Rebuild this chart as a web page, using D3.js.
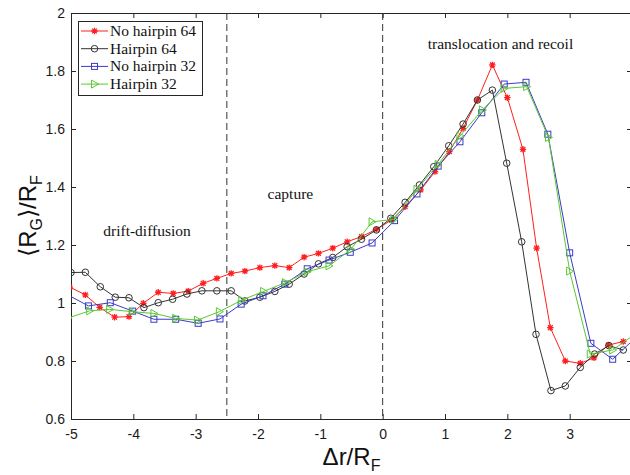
<!DOCTYPE html>
<html><head><meta charset="utf-8">
<script src="https://cdn.jsdelivr.net/npm/d3@7"></script>
<style>body{margin:0;background:#fff}</style>
</head><body><svg id="c" width="630" height="475"></svg>
<script>
// ---- data ----
const seriesNames = ["No hairpin 64", "Hairpin 64", "No hairpin 32", "Hairpin 32"];
const red_x = [-5.02,-4.77,-4.54,-4.30,-4.07,-3.84,-3.60,-3.36,-3.12,-2.88,-2.66,-2.43,-2.21,-1.97,-1.73,-1.50,-1.26,-1.03,-0.80,-0.57,-0.34,-0.10,0.14,0.36,0.61,0.84,1.07,1.29,1.52,1.76,2.00,2.25,2.47,2.69,2.93,3.17,3.39,3.62,3.86];
const red_y = [1.055,1.028,0.985,0.951,0.953,0.999,1.037,1.033,1.041,1.068,1.085,1.102,1.110,1.122,1.129,1.122,1.158,1.171,1.189,1.211,1.229,1.254,1.286,1.332,1.39,1.453,1.522,1.602,1.70,1.821,1.708,1.53,1.189,0.915,0.80,0.792,0.811,0.855,0.867];
const black_x = [-5.0,-4.77,-4.53,-4.29,-4.07,-3.83,-3.60,-3.37,-3.14,-2.90,-2.66,-2.43,-2.21,-1.97,-1.73,-1.50,-1.26,-1.03,-0.80,-0.57,-0.34,-0.10,0.13,0.36,0.59,0.82,1.06,1.29,1.52,1.76,1.99,2.23,2.46,2.70,2.93,3.17,3.40,3.63,3.86];
const black_y = [1.105,1.106,1.056,1.02,1.018,0.984,1.001,1.013,1.031,1.042,1.042,1.042,1.007,1.02,1.04,1.065,1.10,1.135,1.157,1.194,1.22,1.252,1.292,1.347,1.407,1.47,1.542,1.617,1.70,1.734,1.482,1.211,0.892,0.698,0.714,0.778,0.824,0.853,0.838];
const blue_x = [-5.07,-4.72,-4.37,-4.01,-3.67,-3.32,-2.96,-2.61,-2.27,-1.92,-1.57,-1.21,-0.86,-0.52,-0.17,0.19,0.55,0.89,1.24,1.59,1.95,2.30,2.65,3.0,3.34,3.69,4.03];
const blue_y = [1.03,0.99,1.001,0.972,0.944,0.944,0.93,0.945,0.996,1.025,1.065,1.118,1.148,1.175,1.207,1.284,1.376,1.472,1.556,1.656,1.755,1.761,1.582,1.173,0.861,0.806,0.875];
const green_x = [-5.05,-4.70,-4.38,-4.02,-3.67,-3.32,-2.97,-2.62,-2.26,-1.91,-1.56,-1.21,-0.86,-0.51,-0.17,0.18,0.55,0.89,1.24,1.60,1.95,2.31,2.66,3.0,3.33,3.69,4.03];
const green_y = [0.948,0.973,0.978,0.97,0.964,0.947,0.941,0.97,1.01,1.04,1.07,1.108,1.128,1.185,1.28,1.288,1.392,1.478,1.576,1.666,1.74,1.746,1.571,1.11,0.824,0.838,0.89];
const xTicks = [-5,-4,-3,-2,-1,0,1,2,3,4];
const xTickLabels = ["-5","-4","-3","-2","-1","0","1","2","3",""];
const yTicks = [0.6,0.8,1,1.2,1.4,1.6,1.8,2];
const yTickLabels = ["0.6","0.8","1","1.2","1.4","1.6","1.8","2"];
const regionLines = [-2.5, 0];
const regionLabels = ["drift-diffusion", "capture", "translocation and recoil"];

// ---- layout ----
const svg = d3.select("#c");
const L = 71, R = 632, T = 13, B = 419;
const x = d3.scaleLinear().domain([-5, 4]).range([L, R]);
const y = d3.scaleLinear().domain([0.6, 2]).range([B, T]);
const axisColor = "#262626";
const sansFont = "Liberation Sans, Arial, sans-serif";
const serifFont = "Liberation Serif, Times New Roman, serif";

svg.append("defs").append("clipPath").attr("id", "clip")
  .append("rect").attr("x", L).attr("y", T).attr("width", R - L).attr("height", B - T);

// axes
const gx = svg.append("g").attr("transform", `translate(0,${B})`)
  .call(d3.axisBottom(x).tickValues(xTicks).tickFormat((d, i) => xTickLabels[i]).tickSize(-5).tickSizeOuter(0).tickPadding(10));
const gxt = svg.append("g").attr("transform", `translate(0,${T})`)
  .call(d3.axisTop(x).tickValues(xTicks).tickFormat("").tickSize(-5).tickSizeOuter(0));
const gy = svg.append("g").attr("transform", `translate(${L},0)`)
  .call(d3.axisLeft(y).tickValues(yTicks).tickFormat((d, i) => yTickLabels[i]).tickSize(-5).tickSizeOuter(0).tickPadding(6));
const gyr = svg.append("g").attr("transform", `translate(${R},0)`)
  .call(d3.axisRight(y).tickValues(yTicks).tickFormat("").tickSize(-5).tickSizeOuter(0));
[gx, gxt, gy, gyr].forEach(g => {
  g.selectAll("path").attr("stroke", axisColor).attr("stroke-width", 1);
  g.selectAll("line").attr("stroke", axisColor).attr("stroke-width", 1);
  g.selectAll("text").attr("fill", "#1a1a1a").style("font-family", sansFont).style("font-size", "14px");
});
gx.selectAll(".tick text").filter(function() { return this.textContent === ""; }).remove();

// region dashed lines
svg.append("g").selectAll("line").data(regionLines).join("line")
  .attr("x1", d => x(d)).attr("x2", d => x(d)).attr("y1", T).attr("y2", B)
  .attr("stroke", "#333").attr("stroke-width", 1).attr("stroke-dasharray", "7,4");

// region labels
const labelPos = [[-3.78, 1.231], [-1.48, 1.36], [1.89, 1.876]];
svg.append("g").selectAll("text").data(regionLabels).join("text")
  .attr("x", (d, i) => x(labelPos[i][0])).attr("y", (d, i) => y(labelPos[i][1]))
  .attr("text-anchor", "middle").attr("fill", "#111")
  .style("font-family", serifFont).style("font-size", "15.5px").text(d => d);

// series
const series = [
  {name: seriesNames[0], xs: red_x, ys: red_y, color: "#ff1e1e", marker: "star"},
  {name: seriesNames[1], xs: black_x, ys: black_y, color: "#333333", marker: "circle"},
  {name: seriesNames[2], xs: blue_x, ys: blue_y, color: "#3b3bc8", marker: "square"},
  {name: seriesNames[3], xs: green_x, ys: green_y, color: "#5ac832", marker: "triangle"}
];

function drawMarker(g, type, cx, cy, color) {
  if (type === "star") {
    const r = 3.2, rd = 2.4;
    const p = `M${cx-r},${cy}L${cx+r},${cy}M${cx},${cy-r}L${cx},${cy+r}M${cx-rd},${cy-rd}L${cx+rd},${cy+rd}M${cx-rd},${cy+rd}L${cx+rd},${cy-rd}`;
    g.append("path").attr("d", p).attr("stroke", color).attr("stroke-width", 1.3).attr("fill", "none");
  } else if (type === "circle") {
    g.append("circle").attr("cx", cx).attr("cy", cy).attr("r", 3.3).attr("fill", "none").attr("stroke", color).attr("stroke-width", 1);
  } else if (type === "square") {
    g.append("rect").attr("x", cx - 3).attr("y", cy - 3).attr("width", 6).attr("height", 6).attr("fill", "none").attr("stroke", color).attr("stroke-width", 1);
  } else {
    g.append("path").attr("d", `M${cx-3},${cy-4}L${cx+4},${cy}L${cx-3},${cy+4}Z`).attr("fill", "none").attr("stroke", color).attr("stroke-width", 1);
  }
}

const plot = svg.append("g").attr("clip-path", "url(#clip)");
const line = d3.line().x(d => x(d[0])).y(d => y(d[1]));
series.forEach(s => {
  const pts = s.xs.map((v, i) => [v, s.ys[i]]);
  plot.append("path").datum(pts).attr("d", line).attr("fill", "none").attr("stroke", s.color).attr("stroke-width", 1);
  const mg = plot.append("g");
  pts.forEach(p => drawMarker(mg, s.marker, x(p[0]), y(p[1]), s.color));
});

// legend
const lg = svg.append("g");
lg.append("rect").attr("x", 78.5).attr("y", 21.5).attr("width", 124).attr("height", 74)
  .attr("fill", "#fff").attr("stroke", axisColor).attr("stroke-width", 1);
series.forEach((s, i) => {
  const cy = 31 + i * 17.7;
  lg.append("line").attr("x1", 81).attr("x2", 108).attr("y1", cy).attr("y2", cy).attr("stroke", s.color).attr("stroke-width", 1);
  drawMarker(lg, s.marker, 94.5, cy, s.color);
  lg.append("text").attr("x", 110).attr("y", cy + 5).attr("fill", "#111")
    .style("font-family", serifFont).style("font-size", "15.5px").text(s.name);
});

// axis titles
const xl = svg.append("text").attr("x", (L + R) / 2).attr("y", 465).attr("text-anchor", "middle")
  .attr("fill", "#111").style("font-family", sansFont).style("font-size", "24px");
xl.append("tspan").text("Δr/R");
xl.append("tspan").attr("dy", 6).style("font-size", "16px").text("F");

const yl = svg.append("text").attr("transform", `translate(36,${(T + B) / 2}) rotate(-90)`).attr("text-anchor", "middle")
  .attr("fill", "#111").style("font-family", sansFont).style("font-size", "24px");
yl.append("tspan").text("⟨R");
yl.append("tspan").attr("dy", 6).style("font-size", "16px").text("G");
yl.append("tspan").attr("dy", -6).text("⟩/R");
yl.append("tspan").attr("dy", 6).style("font-size", "16px").text("F");
</script></body></html>
